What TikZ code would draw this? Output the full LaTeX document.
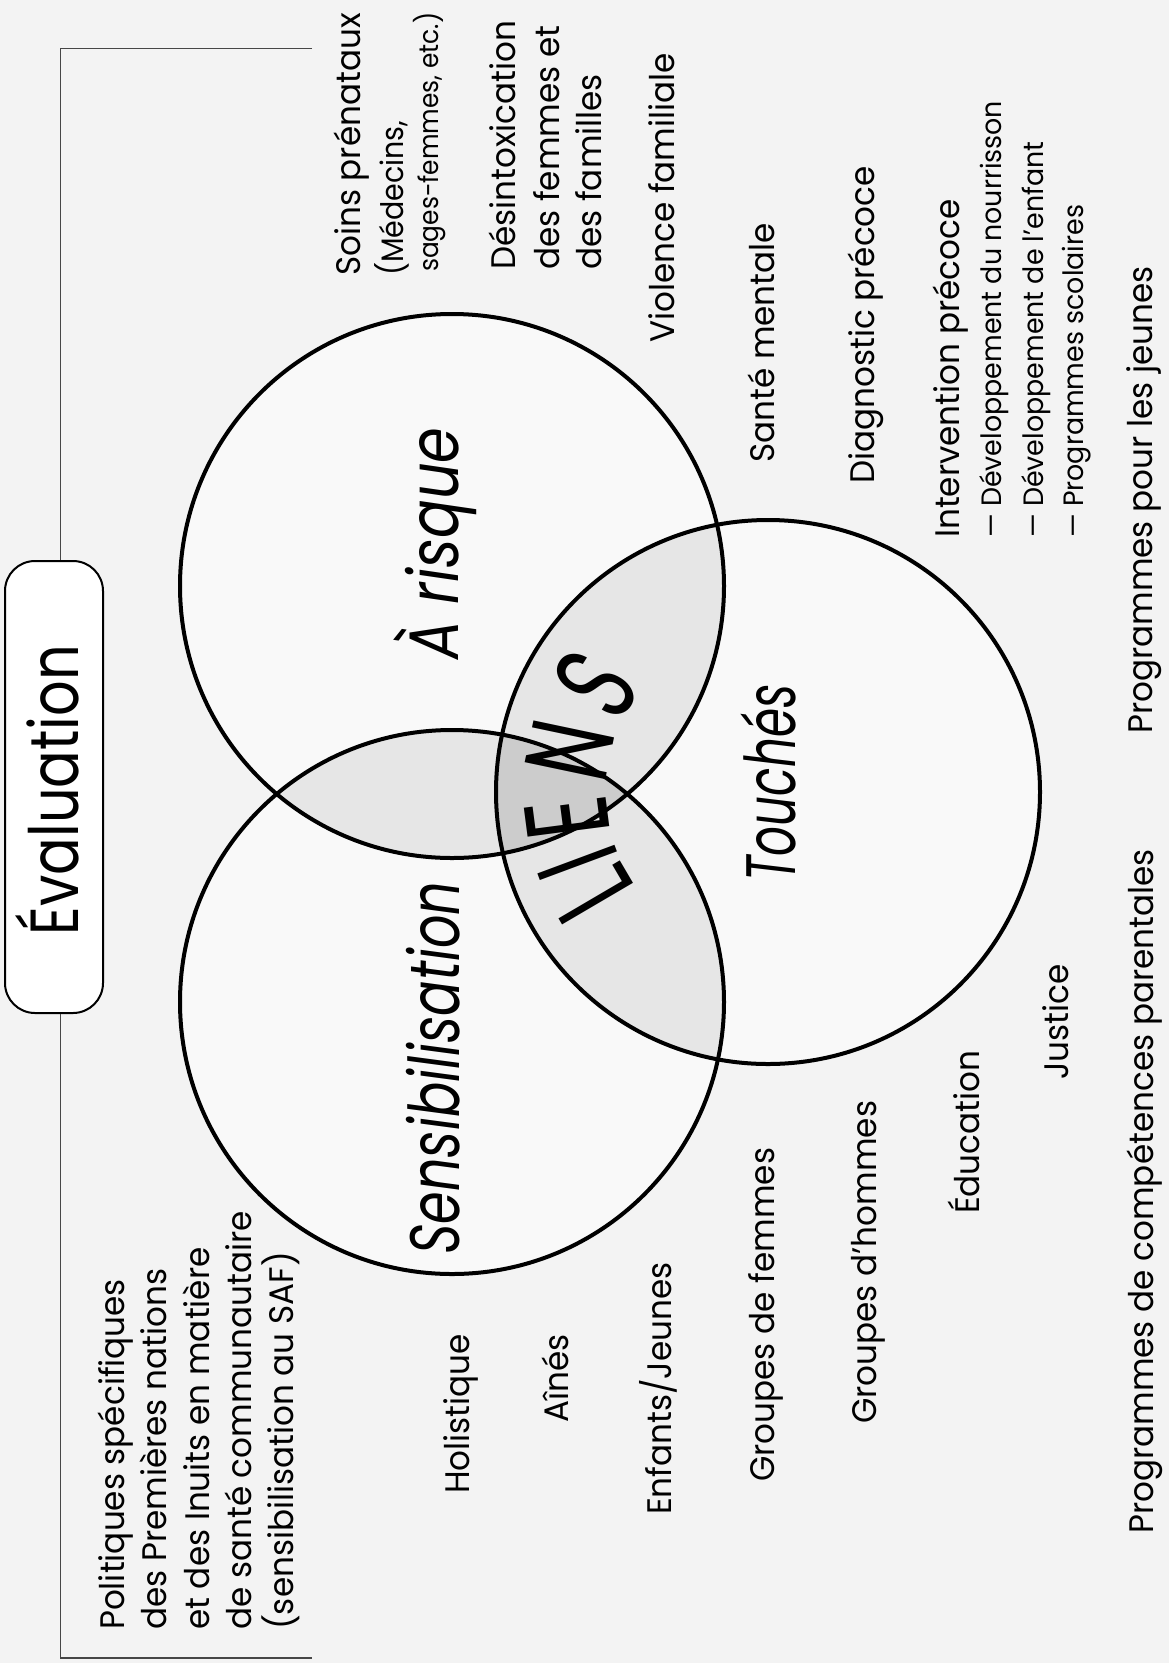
\documentclass[tikz,border=0pt]{standalone}
\usepackage{fontspec}
\setmainfont{Poppins}
\newfontfamily\bodyf{Poppins}[FakeStretch=0.96]
\newfontfamily\smallf{Poppins}[FakeStretch=0.92]
\newfontfamily\condf{Poppins}[FakeStretch=0.75]
\newfontfamily\condR{Poppins}[FakeStretch=0.82]
\newfontfamily\condT{Poppins}[FakeStretch=0.67]
\newfontfamily\condE{Poppins}[FakeStretch=0.82]
\newfontfamily\condL{Poppins}[FakeStretch=0.66]
\usetikzlibrary{calc}
\definecolor{bg}{RGB}{243,243,243}
\definecolor{cin}{RGB}{249,249,249}
\definecolor{cpair}{RGB}{230,230,230}
\definecolor{ctri}{RGB}{204,204,204}
\definecolor{frm}{RGB}{70,70,70}
\tikzset{
  item/.style={rotate=90, anchor=base west, inner sep=0pt, font=\bodyf\fontsize{34}{40}\selectfont},
  subitem/.style={item, font=\bodyf\fontsize{28}{34}\selectfont},
  noteitem/.style={item, font=\smallf\fontsize{27}{32}\selectfont},
  biglabel/.style={rotate=90, anchor=base west, inner sep=0pt},
  liens/.style={inner sep=0pt, anchor=center, font=\condL\fontsize{118}{120}\selectfont},
  ring/.style={draw=black, line width=4pt},
  frameline/.style={draw=frm, line width=1.5pt},
}
\begin{document}
\begin{tikzpicture}[x=1pt,y=-1pt]
\fill[bg] (0,0) rectangle (1169,1663);
\useasboundingbox (0,0) rectangle (1169,1663);

% circles
\node[circle, minimum size=544pt, inner sep=0pt, fill=cin] (A) at (452,586) {};
\node[circle, minimum size=544pt, inner sep=0pt, fill=cin] (B) at (768,792) {};
\node[circle, minimum size=544pt, inner sep=0pt, fill=cin] (C) at (452,1002) {};
\begin{scope}
  \clip (A.center) circle[radius=272pt];
  \fill[cpair] (B.center) circle[radius=272pt];
  \fill[cpair] (C.center) circle[radius=272pt];
\end{scope}
\begin{scope}
  \clip (B.center) circle[radius=272pt];
  \fill[cpair] (C.center) circle[radius=272pt];
\end{scope}
\begin{scope}
  \clip (A.center) circle[radius=272pt];
  \clip (B.center) circle[radius=272pt];
  \fill[ctri] (C.center) circle[radius=272pt];
\end{scope}
\draw[ring] (A.center) circle[radius=272pt];
\draw[ring] (B.center) circle[radius=272pt];
\draw[ring] (C.center) circle[radius=272pt];

% evaluation frame
\node[draw=black, line width=2pt, rounded corners=30pt, fill=white,
      minimum width=98pt, minimum height=452pt, inner sep=0pt] (evalbox) at (54,787) {};
\node[rotate=90, anchor=base, inner sep=0pt, font=\condE\fontsize{68}{70}\selectfont] (evaltxt) at (78,790) {Évaluation};
\coordinate (ft) at (60.5,48.6);
\coordinate (fte) at (312,48.6);
\coordinate (fb) at (60.5,1658);
\coordinate (fbe) at (312,1658);
\draw[frameline] (fte) -- (ft) -- (ft |- evalbox.north);
\draw[frameline] (fb |- evalbox.south) -- (fb) -- (fbe);

% big labels
\node[biglabel, font=\condR\itshape\fontsize{70}{80}\selectfont] (risque) at (458,660) {À risque};
\node[biglabel, font=\condT\itshape\fontsize{70}{80}\selectfont] (touches) at (795,882) {Touchés};
\node[biglabel, font=\condf\itshape\fontsize{70}{80}\selectfont] (sensib) at (459,1255) {Sensibilisation};

% LIENS along an arc around the centre of circle B
\foreach \ch/\ang [count=\i] in {L/210.4, I/200.4, E/187.4, N/168.1, S/147.9} {
  \node[liens, rotate=\ang-90] (li\i) at ($(B.center)+(-\ang:203)$) {\ch};
}

% top items
\node[item] (soins) at (360,276) {Soins prénataux};
\node[noteitem, font=\smallf\fontsize{31}{34}\selectfont] (medec) at (403,276) {(Médecins,};
\node[noteitem] (sages) at (438,272) {sages-femmes, etc.)};
\node[item] (desin1) at (515,270) {Désintoxication};
\node[item] (desin2) at (559,270) {des femmes et};
\node[item] (desin3) at (601,270) {des familles};
\node[item] (viol) at (674,343) {Violence familiale};
\node[item] (sante) at (774,463) {Santé mentale};
\node[item] (diag) at (874,484) {Diagnostic précoce};
\node[item] (interv) at (959,538) {Intervention précoce};
\node[subitem] (dev1) at (1001,538) {— Développement du nourrisson};
\node[subitem] (dev2) at (1043,538) {— Développement de l’enfant};
\node[subitem] (prog) at (1083,538) {— Programmes scolaires};
\node[item] (jeunes) at (1152,734) {Programmes pour les jeunes};

% bottom items
\node[item] (parent) at (1153,1534) {Programmes de compétences parentales};
\node[item] (justice) at (1068,1080) {Justice};
\node[item] (educ) at (979,1214) {Éducation};
\node[item] (hommes) at (876,1424) {Groupes d’hommes};
\node[item] (femmes) at (774,1482) {Groupes de femmes};
\node[item] (enfants) at (671,1515) {Enfants/Jeunes};
\node[item] (aines) at (568,1423) {Aînés};
\node[item] (holist) at (469,1494) {Holistique};
\node[item] (pol1) at (124,1630) {Politiques spécifiques};
\node[item] (pol2) at (166,1630) {des Premières nations};
\node[item] (pol3) at (209,1630) {et des Inuits en matière};
\node[item] (pol4) at (251,1630) {de santé communautaire};
\node[item] (pol5) at (293,1630) {(sensibilisation au SAF)};
\end{tikzpicture}
\end{document}
